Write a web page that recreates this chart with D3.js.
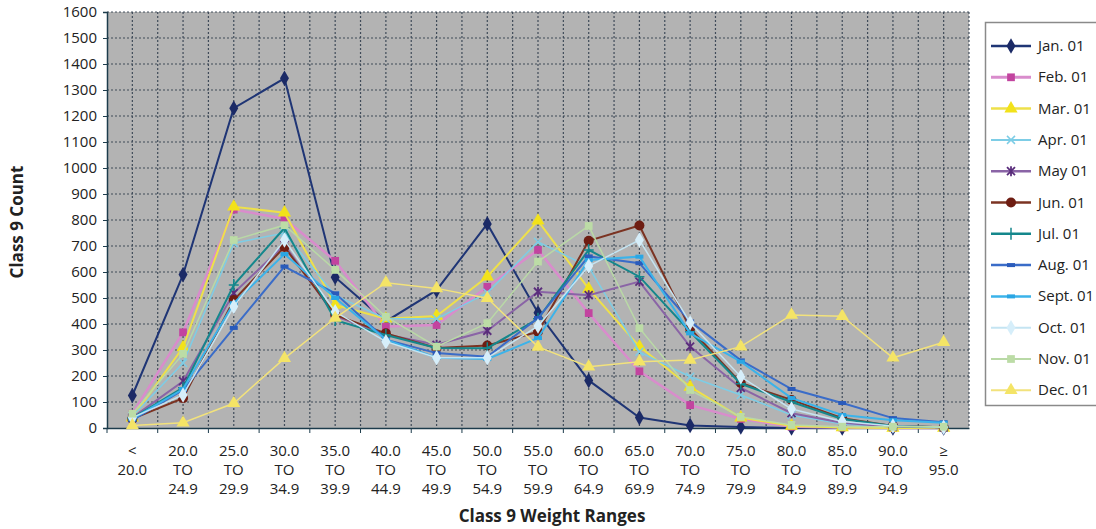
<!DOCTYPE html>
<html>
<head>
<meta charset="utf-8">
<script src="https://cdn.jsdelivr.net/npm/d3@7"></script>
<style>
  body { margin: 0; background: #fff; }
  text { font-family: "Open Sans", "DejaVu Sans", sans-serif; fill: #222; }
  .tick text { font-size: 15px; }
  .title { font-size: 17px; font-weight: bold; }
  .legendText { font-size: 15px; }
</style>
</head>
<body>
<svg></svg>
<script>
var categories = ["< 20.0", "20.0 TO 24.9", "25.0 TO 29.9", "30.0 TO 34.9", "35.0 TO 39.9",
  "40.0 TO 44.9", "45.0 TO 49.9", "50.0 TO 54.9", "55.0 TO 59.9", "60.0 TO 64.9",
  "65.0 TO 69.9", "70.0 TO 74.9", "75.0 TO 79.9", "80.0 TO 84.9", "85.0 TO 89.9",
  "90.0 TO 94.9", "≥ 95.0"];

var seriesNames = ["Jan. 01", "Feb. 01", "Mar. 01", "Apr. 01", "May 01", "Jun. 01",
  "Jul. 01", "Aug. 01", "Sept. 01", "Oct. 01", "Nov. 01", "Dec. 01"];

var jan  = [125, 590, 1230, 1345, 580, 410, 530, 785, 443, 183, 40, 10, 4, 0, 0, 0, 0];
var feb  = [55, 368, 840, 805, 643, 390, 396, 543, 685, 442, 218, 88, 35, 5, 2, 0, 0];
var mar  = [40, 310, 851, 828, 473, 420, 431, 582, 797, 535, 313, 158, 40, 8, 2, 0, 0];
var apr  = [45, 250, 711, 750, 510, 420, 420, 520, 716, 620, 293, 197, 127, 50, 15, 5, 2];
var may  = [40, 180, 519, 704, 430, 360, 320, 374, 524, 511, 563, 313, 154, 57, 20, 5, 2];
var jun  = [35, 115, 492, 696, 435, 364, 308, 317, 370, 720, 779, 383, 173, 108, 38, 8, 3];
var jul  = [38, 155, 550, 769, 415, 358, 308, 307, 420, 685, 582, 370, 170, 100, 35, 8, 3];
var aug  = [30, 146, 385, 621, 518, 340, 288, 274, 423, 660, 634, 410, 260, 150, 96, 38, 22];
var sept = [35, 150, 480, 669, 500, 340, 270, 265, 346, 646, 659, 364, 255, 115, 50, 30, 20];
var oct  = [40, 127, 467, 723, 447, 332, 270, 270, 392, 623, 723, 405, 197, 73, 25, 8, 3];
var nov  = [55, 285, 723, 780, 608, 428, 313, 403, 640, 777, 384, 146, 43, 12, 5, 5, 5];
var dec  = [10, 20, 95, 268, 423, 559, 537, 499, 312, 236, 255, 262, 313, 435, 430, 270, 330];

var yTicks = [0, 100, 200, 300, 400, 500, 600, 700, 800, 900, 1000, 1100, 1200, 1300, 1400, 1500, 1600];

var allValues = [jan, feb, mar, apr, may, jun, jul, aug, sept, oct, nov, dec];

// line colour, marker colour, marker type
var styles = [
  {line: "#1f3575", fill: "#1b2a66", mark: "diamond", w: 2},
  {line: "#d98ccc", fill: "#c2449f", mark: "square", w: 2.5},
  {line: "#eee04a", fill: "#f2e21a", mark: "triangle", w: 2},
  {line: "#7dcde6", fill: "#7dcde6", mark: "x", w: 1.5},
  {line: "#8a64a6", fill: "#5a2d7c", mark: "star", w: 2},
  {line: "#7b3322", fill: "#6e1d12", mark: "circle", w: 2},
  {line: "#14878c", fill: "#14878c", mark: "plus", w: 2},
  {line: "#3a6cc8", fill: "#2a5bbb", mark: "dash", w: 2},
  {line: "#3bb3ea", fill: "#2aa6e4", mark: "dash", w: 2},
  {line: "#c4e4f2", fill: "#d6eefa", mark: "diamond", w: 1.5},
  {line: "#b9d9a6", fill: "#bcdca6", mark: "square", w: 1.5},
  {line: "#f2e27c", fill: "#f4e466", mark: "triangle", w: 1.5}
];

var w = 1096, h = 529;
var plot = {left: 107, right: 969, top: 12, bottom: 428};

var svg = d3.select("svg").attr("width", w).attr("height", h);

var xscale = d3.scaleBand()
  .domain(categories)
  .range([plot.left, plot.right]);

var yscale = d3.scaleLinear()
  .domain([0, 1600])
  .range([plot.bottom, plot.top]);

function cx(c) { return xscale(c) + xscale.bandwidth() / 2; }

// plot background
svg.append("rect")
  .attr("x", plot.left).attr("y", plot.top)
  .attr("width", plot.right - plot.left).attr("height", plot.bottom - plot.top)
  .attr("fill", "#b3b3b3");

// grid
var grid = svg.append("g").attr("stroke", "#2c3a4a").attr("stroke-width", 1.2)
  .attr("stroke-dasharray", "2,2").attr("opacity", 0.85);

grid.selectAll(".hg").data(yTicks.slice(1)).enter().append("line")
  .attr("x1", plot.left).attr("x2", plot.right)
  .attr("y1", function(d){ return yscale(d); })
  .attr("y2", function(d){ return yscale(d); });

var vlines = [];
categories.forEach(function(c){ vlines.push(xscale(c) + xscale.bandwidth() / 2); vlines.push(xscale(c) + xscale.bandwidth()); });
grid.selectAll(".vg").data(vlines).enter().append("line")
  .attr("y1", plot.top).attr("y2", plot.bottom)
  .attr("x1", function(d){ return d; })
  .attr("x2", function(d){ return d; });

// y axis
var yAxis = d3.axisLeft(yscale).tickValues(yTicks).tickFormat(d3.format("d")).tickSize(4).tickPadding(6);
var gy = svg.append("g").attr("class", "y axis")
  .attr("transform", "translate(" + plot.left + ",0)")
  .call(yAxis);
gy.select(".domain").attr("stroke", "#1d3c4c").attr("stroke-width", 1.5);
gy.selectAll(".tick line").attr("stroke", "#1d3c4c");
gy.selectAll(".tick text").attr("fill", "#222");

// x axis
var xAxis = d3.axisBottom(xscale).tickSize(0).tickFormat("");
var gx = svg.append("g").attr("class", "x axis")
  .attr("transform", "translate(0," + plot.bottom + ")")
  .call(xAxis);
gx.select(".domain").attr("stroke", "#1d3c4c").attr("stroke-width", 1.5);

gx.selectAll(".bt").data(categories).enter().append("line")
  .attr("x1", function(c){ return xscale(c); })
  .attr("x2", function(c){ return xscale(c); })
  .attr("y1", 0).attr("y2", 5)
  .attr("stroke", "#1d3c4c");

var labels = gx.selectAll(".xl").data(categories).enter().append("text")
  .attr("class", "xl")
  .attr("text-anchor", "middle")
  .style("font-size", "15px");
labels.each(function(c){
  var parts = c.indexOf(" TO ") > 0 ? [c.split(" TO ")[0], "TO", c.split(" TO ")[1]] : c.split(" ");
  d3.select(this).selectAll("tspan").data(parts).enter().append("tspan")
    .attr("x", cx(c))
    .attr("y", function(d, i){ return 28 + i * 19; })
    .text(function(d){ return d; });
});

// axis titles
svg.append("text").attr("class", "title")
  .attr("x", 552).attr("y", 522)
  .attr("text-anchor", "middle")
  .text("Class 9 Weight Ranges");

svg.append("text").attr("class", "title")
  .attr("transform", "translate(23," + 222 + ") rotate(-90)")
  .attr("text-anchor", "middle")
  .text("Class 9 Count");

// markers
function drawMarker(g, type, color) {
  if (type === "diamond") {
    g.append("path").attr("d", d3.symbol(d3.symbolDiamond, 70)()).attr("fill", color);
  } else if (type === "square") {
    g.append("path").attr("d", d3.symbol(d3.symbolSquare, 60)()).attr("fill", color);
  } else if (type === "triangle") {
    g.append("path").attr("d", d3.symbol(d3.symbolTriangle, 75)()).attr("fill", color);
  } else if (type === "circle") {
    g.append("circle").attr("r", 5).attr("fill", color);
  } else if (type === "x") {
    g.append("path").attr("d", "M-4,-4L4,4M-4,4L4,-4").attr("stroke", color).attr("stroke-width", 1.5);
  } else if (type === "star") {
    g.append("path").attr("d", "M-4,-4L4,4M-4,4L4,-4M0,-5L0,5").attr("stroke", color).attr("stroke-width", 1.8);
  } else if (type === "plus") {
    g.append("path").attr("d", "M0,-6L0,6M-5,0L5,0").attr("stroke", color).attr("stroke-width", 1.5);
  } else if (type === "dash") {
    g.append("path").attr("d", "M-4,0L4,0").attr("stroke", color).attr("stroke-width", 4);
  }
}

var line = d3.line()
  .x(function(d){ return cx(d.cat); })
  .y(function(d){ return yscale(d.v); });

allValues.forEach(function(vals, s){
  var pts = vals.map(function(v, i){ return {cat: categories[i], v: v}; });
  var st = styles[s];
  var g = svg.append("g").attr("class", "series");
  g.append("path").datum(pts)
    .attr("d", line)
    .attr("fill", "none")
    .attr("stroke", st.line)
    .attr("stroke-width", st.w);
  g.selectAll(".m").data(pts).enter().append("g")
    .attr("transform", function(d){ return "translate(" + cx(d.cat) + "," + yscale(d.v) + ")"; })
    .each(function(){ drawMarker(d3.select(this), st.mark, st.fill); });
});

// legend
var legend = svg.append("g").attr("transform", "translate(985,22)");
legend.append("rect")
  .attr("x", 0.5).attr("y", 0.5).attr("width", 112).attr("height", 383)
  .attr("fill", "#fff").attr("stroke", "#8a8a8a").attr("stroke-width", 1.5);

var items = legend.selectAll(".li").data(seriesNames).enter().append("g")
  .attr("transform", function(d, i){ return "translate(0," + (24 + i * 31.3) + ")"; });
items.append("line")
  .attr("x1", 6).attr("x2", 46).attr("y1", 0).attr("y2", 0)
  .attr("stroke", function(d, i){ return styles[i].line; })
  .attr("stroke-width", function(d, i){ return styles[i].w + 0.5; });
items.append("g").attr("transform", "translate(26,0)")
  .each(function(d, i){ drawMarker(d3.select(this), styles[i].mark, styles[i].fill); });
items.append("text")
  .attr("class", "legendText")
  .attr("x", 53).attr("y", 5)
  .text(function(d){ return d; });
</script>
</body>
</html>
